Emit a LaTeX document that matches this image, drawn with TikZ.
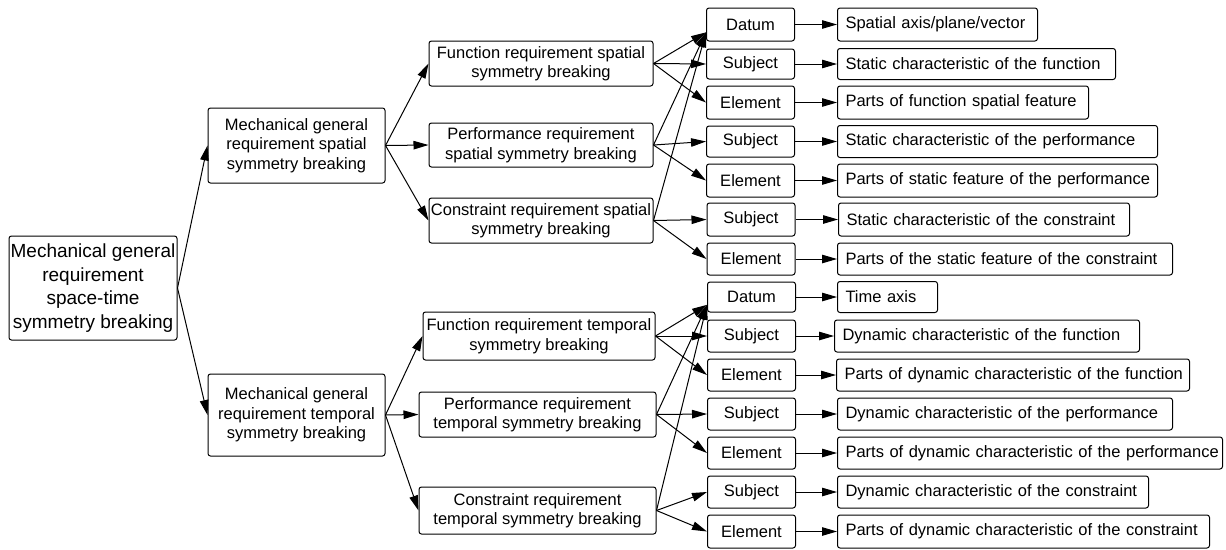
\documentclass[tikz,border=0pt]{standalone}
\usepackage{fontspec}
\setmainfont{Liberation Sans}
\usetikzlibrary{arrows.meta}
\begin{document}
\begin{tikzpicture}[x=1pt,y=-1pt,
  box/.style={draw, rounded corners=2.5pt, line width=1pt, inner sep=0pt,
    align=center, font=\fontsize{16.5}{19.5}\selectfont},
  tag/.style={box, minimum width=88pt, minimum height=32pt},
  leaf/.style={box, anchor=west, minimum height=32pt, text width=#1,
    inner xsep=8pt, align=left},
  link/.style={line width=1pt, -{Triangle[length=15pt,width=8.5pt]}}]
\useasboundingbox (0,0) rectangle (1226,549);

% root
\node[box, minimum width=168pt, minimum height=104pt,
  font=\fontsize{19}{23.5}\selectfont] (root) at (93,288)
  {Mechanical general\\requirement\\space-time\\symmetry breaking};

% second level
\node[box, minimum width=177pt, minimum height=75pt] (sp) at (296.5,145.5)
  {Mechanical general\\requirement spatial\\symmetry breaking};
\node[box, minimum width=177pt, minimum height=82pt] (tp) at (296.5,415)
  {Mechanical general\\requirement temporal\\symmetry breaking};

% third level, spatial
\node[box, minimum width=224pt, minimum height=45pt] (sf) at (541,63.5)
  {Function requirement spatial\\symmetry breaking};
\node[box, minimum width=224pt, minimum height=44pt] (sq) at (541,145)
  {Performance requirement\\spatial symmetry breaking};
\node[box, minimum width=224pt, minimum height=45pt] (sc) at (541,220.5)
  {Constraint requirement spatial\\symmetry breaking};

% third level, temporal
\node[box, minimum width=232pt, minimum height=48pt] (tf) at (539,336)
  {Function requirement temporal\\symmetry breaking};
\node[box, minimum width=237pt, minimum height=45pt] (tq) at (537.5,414.5)
  {Performance requirement\\temporal symmetry breaking};
\node[box, minimum width=237pt, minimum height=47pt] (tc) at (537.5,510.5)
  {Constraint requirement\\temporal symmetry breaking};

% fourth level, spatial
\node[tag, minimum height=33pt] (sd)  at (750.5,24.5) {Datum};
\node[tag, minimum height=30pt] (ss1) at (750.5,64)   {Subject};
\node[tag, minimum height=33pt] (se1) at (750.5,102.5){Element};
\node[tag, minimum height=31pt] (ss2) at (750.5,141.5){Subject};
\node[tag, minimum height=33pt] (se2) at (750.5,180.5){Element};
\node[tag, minimum height=33pt] (ss3) at (751,219.5)  {Subject};
\node[tag, minimum height=32pt] (se3) at (751,259)    {Element};

% fourth level, temporal
\node[tag, minimum height=30pt] (td)  at (751.5,297)  {Datum};
\node[tag, minimum height=32pt] (ts1) at (751.5,336)  {Subject};
\node[tag, minimum height=32pt] (te1) at (751.5,375)  {Element};
\node[tag, minimum height=32pt] (ts2) at (751.5,414)  {Subject};
\node[tag, minimum height=32pt] (te2) at (751.5,453)  {Element};
\node[tag, minimum height=32pt] (ts3) at (751.5,492)  {Subject};
\node[tag, minimum height=33pt] (te3) at (751.5,531.5){Element};

% fifth level, spatial
\node[leaf=184pt, minimum height=33pt] (sd5)  at (837,24.5)  {\mbox{Spatial axis/plane/vector}};
\node[leaf=262pt, minimum height=31pt] (ss15) at (837,64)    {\mbox{Static characteristic of the function}};
\node[leaf=235pt, minimum height=33pt] (se15) at (837,102.5) {\mbox{Parts of function spatial feature}};
\node[leaf=304pt, minimum height=32pt] (ss25) at (837,141.5) {\mbox{Static characteristic of the performance}};
\node[leaf=304pt, minimum height=33pt] (se25) at (837,180.5) {\mbox{Parts of static feature of the performance}};
\node[leaf=275pt, minimum height=33pt] (ss35) at (838,219.5) {\mbox{Static characteristic of the constraint}};
\node[leaf=319pt, minimum height=32pt] (se35) at (837,259)   {\mbox{Parts of the static feature of the constraint}};

% fifth level, temporal
\node[leaf=84pt,  minimum height=31pt] (td5)  at (837,297)   {\mbox{Time axis}};
\node[leaf=289pt, minimum height=32pt] (ts15) at (834,336)   {\mbox{Dynamic characteristic of the function}};
\node[leaf=337pt, minimum height=32pt] (te15) at (836,375)   {\mbox{Parts of dynamic characteristic of the function}};
\node[leaf=319pt, minimum height=32pt] (ts25) at (837,414)   {\mbox{Dynamic characteristic of the performance}};
\node[leaf=369pt, minimum height=32pt] (te25) at (837,453)   {\mbox{Parts of dynamic characteristic of the performance}};
\node[leaf=295pt, minimum height=32pt] (ts35) at (837,492)   {\mbox{Dynamic characteristic of the constraint}};
\node[leaf=356pt, minimum height=33pt] (te35) at (837,531.5) {\mbox{Parts of dynamic characteristic of the constraint}};

% connectors: root and second level
\draw[link] (root.east) -- (sp.west);
\draw[link] (root.east) -- (tp.west);
\foreach \n in {sf,sq,sc} \draw[link] (sp.east) -- (\n.west);
\foreach \n in {tf,tq,tc} \draw[link] (tp.east) -- (\n.west);

% connectors: third to fourth level
\draw[link] (sf.east) -- (sd.190);
\draw[link] (sf.east) -- (ss1.west);
\draw[link] (sf.east) -- (se1.west);
\draw[link] (sq.east) -- (sd.190);
\draw[link] (sq.east) -- (ss2.west);
\draw[link] (sq.east) -- (se2.west);
\draw[link] (sc.east) -- (sd.190);
\draw[link] (sc.east) -- (ss3.west);
\draw[link] (sc.east) -- (se3.west);

\draw[link] (tf.east) -- (td.190);
\draw[link] (tf.east) -- (ts1.west);
\draw[link] (tf.east) -- (te1.west);
\draw[link] (tq.east) -- (td.190);
\draw[link] (tq.east) -- (ts2.west);
\draw[link] (tq.east) -- (te2.west);
\draw[link] (tc.east) -- (td.190);
\draw[link] (tc.east) -- (ts3.west);
\draw[link] (tc.east) -- (te3.west);

% connectors: fourth to fifth level
\foreach \n in {sd,ss1,se1,ss2,se2,ss3,se3,td,ts1,te1,ts2,te2,ts3,te3}
  \draw[link] (\n.east) -- (\n5.west);
\end{tikzpicture}
\end{document}
